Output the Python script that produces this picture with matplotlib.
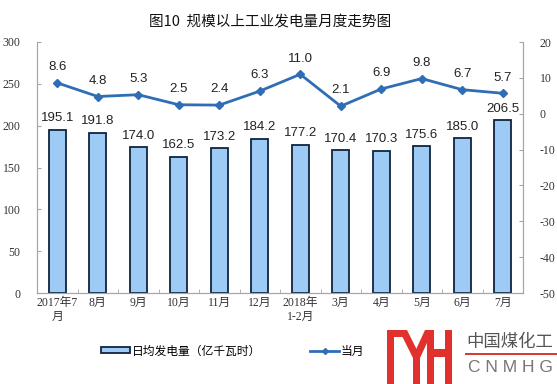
import matplotlib
matplotlib.use("Agg")
import matplotlib.pyplot as plt
from matplotlib.patches import Rectangle, Polygon
from matplotlib.lines import Line2D

plt.rcParams['font.family'] = ['Liberation Sans', 'Noto Sans CJK SC', 'DejaVu Sans']
plt.rcParams['axes.unicode_minus'] = False

# data
months = ['2017年7\n月', '8月', '9月', '10月', '11月', '12月', '2018年\n1-2月',
          '3月', '4月', '5月', '6月', '7月']
daily_output = [195.1, 191.8, 174.0, 162.5, 173.2, 184.2, 177.2, 170.4, 170.3, 175.6, 185.0, 206.5]
growth = [8.6, 4.8, 5.3, 2.5, 2.4, 6.3, 11.0, 2.1, 6.9, 9.8, 6.7, 5.7]
left_ticks = [0, 50, 100, 150, 200, 250, 300]
right_ticks = [-50, -40, -30, -20, -10, 0, 10, 20]

W, H = 557, 384
fig = plt.figure(figsize=(W / 100, H / 100), dpi=100)
ax = fig.add_axes([37 / W, 1 - 293 / H, (523 - 37) / W, (293 - 42) / H])
ax2 = ax.twinx()

x = list(range(len(months)))
bar_fc = '#9DCBF5'
bar_ec = '#10233F'
line_c = '#2F6EB5'
axis_c = '#A6A6A6'

ax.bar(x, daily_output, width=0.42, color=bar_fc, edgecolor=bar_ec, linewidth=1.3, zorder=2)
for xi, v in zip(x, daily_output):
    ax.annotate(f'{v:.1f}', (xi, v), xytext=(0, 4), textcoords='offset points',
                ha='center', va='bottom', fontsize=9.5, color='#222222')

ax2.plot(x, growth, color=line_c, linewidth=2, marker='D', markersize=4.5, zorder=3)
for xi, v in zip(x, growth):
    ax2.annotate(f'{v:.1f}', (xi, v), xytext=(0, 7), textcoords='offset points',
                 ha='center', va='bottom', fontsize=9.5, color='#222222')

ax.set_xlim(-0.5, len(months) - 0.5)
ax.set_ylim(0, 300)
ax2.set_ylim(-50, 20)
ax.set_yticks(left_ticks)
ax2.set_yticks(right_ticks)
ax.set_xticks(x)
ax.set_xticklabels(months, fontsize=8.5, family=['Liberation Serif', 'Noto Sans CJK SC'],
                   color='#333333', linespacing=1.25)
ax.set_xticks([i + 0.5 for i in x[:-1]], minor=True)

for a in (ax, ax2):
    for s in a.spines.values():
        s.set_color(axis_c)
    a.spines['top'].set_visible(False)
    a.tick_params(axis='y', direction='in', length=3, color=axis_c, labelsize=8.5,
                  labelcolor='#333333', pad=12, labelfontfamily='Liberation Serif')
ax.tick_params(axis='x', which='major', length=0, pad=3)
ax.tick_params(axis='x', which='minor', direction='in', length=3, color=axis_c)

fig.text(270 / W, 1 - 22 / H, '图10  规模以上工业发电量月度走势图', ha='center', va='center',
         fontsize=10.5, family=['Noto Sans CJK SC'], color='#111111')

# legend
h_bar = Rectangle((0, 0), 1, 1, facecolor=bar_fc, edgecolor=bar_ec, linewidth=1.3)
h_line = Line2D([], [], color=line_c, linewidth=2, marker='D', markersize=3)
fig.legend([h_bar, h_line], ['日均发电量（亿千瓦时）', '当月增速（%）'], ncol=2, frameon=False,
           loc='center', bbox_to_anchor=(262 / W, 1 - 351 / H),
           handlelength=2.4, handleheight=0.4, handletextpad=0.2, columnspacing=4.15,
           prop={'family': ['Noto Sans CJK SC'], 'size': 8.5})


# watermark logo (pixel coords, top-left origin)
def px(pts):
    return [(px_ / W, 1 - py_ / H) for px_, py_ in pts]


def poly(pts, color):
    fig.add_artist(Polygon(px(pts), closed=True, facecolor=color, edgecolor='none',
                           transform=fig.transFigure, zorder=10))


def box(x0, y0, x1, y1, color):
    poly([(x0, y0), (x1, y0), (x1, y1), (x0, y1)], color)


red = '#E0312F'
box(363, 328, 557, 384, 'white')
box(387, 330, 394, 384, red)
box(387, 330, 405, 337, red)
poly([(399, 330), (407, 330), (420, 356), (413, 358)], red)
poly([(425, 330), (433, 330), (420, 358), (413, 356)], red)
box(413, 354, 420, 384, red)
box(427, 330, 434, 384, red)
box(427, 349, 452, 357, red)
box(445, 330, 452, 384, red)
fig.text(510 / W, 1 - 342 / H, '中国煤化工', ha='center', va='center', fontsize=12.5,
         family=['Noto Sans CJK SC'], color='#555555', zorder=11)
box(465, 353, 557, 354.5, '#D93A36')
fig.text(510 / W, 1 - 367 / H, 'C N M H G', ha='center', va='center', fontsize=12.5,
         family=['Liberation Sans'], color='#777777', zorder=11)

fig.savefig('out.png', dpi=100)
